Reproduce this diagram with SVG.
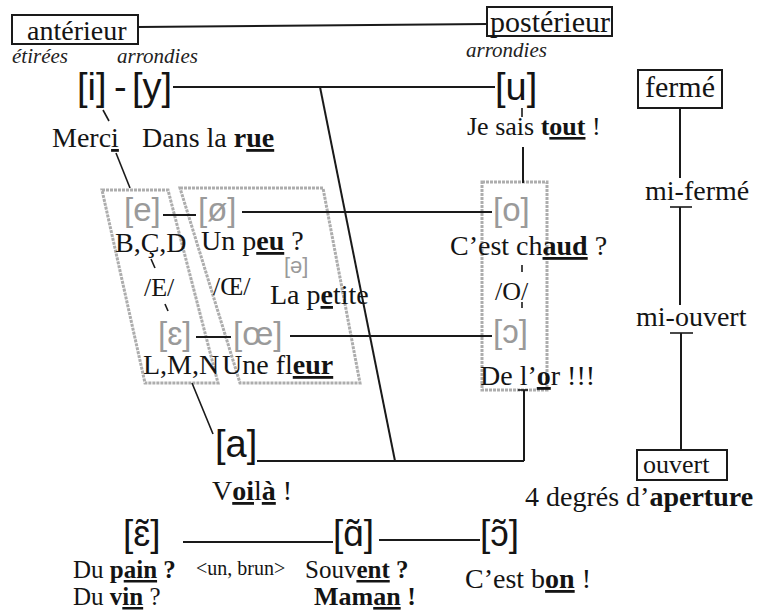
<svg xmlns="http://www.w3.org/2000/svg" width="759" height="610" viewBox="0 0 759 610">
<style>
.t{font-family:"Liberation Serif","Times New Roman",serif;font-size:28px;fill:#141414}
.it{font-family:"Liberation Serif","DejaVu Serif",serif;font-style:italic;font-size:21px;fill:#222}
.ipa{font-family:"Liberation Sans","DejaVu Sans",sans-serif;font-size:38px;fill:#141414}
.gi{font-family:"Liberation Sans","DejaVu Sans",sans-serif;font-size:33px;fill:#9a9a9a}
.b{font-weight:bold}
.u{text-decoration:underline}
.box{fill:#fff;stroke:#1a1a1a;stroke-width:2}
.ln{stroke:#1a1a1a;stroke-width:2;fill:none}
.tk{stroke:#1a1a1a;stroke-width:1.6;fill:none}
.gr{fill:none;stroke:#adadad;stroke-width:3;stroke-dasharray:3 1}
</style>
<rect width="759" height="610" fill="#fff"/>

<g id="groups">
<polygon class="gr" points="102,190 168,190 218,383 145,383"/>
<polygon class="gr" points="180,188 323,188 360,383 240,383"/>
<rect class="gr" x="482" y="182" width="65" height="208"/>
</g>

<g id="connectors">
<line class="ln" x1="138" y1="27" x2="487" y2="24"/>
<line class="ln" x1="173" y1="87" x2="495" y2="87"/>
<line class="ln" x1="320" y1="87" x2="395" y2="461"/>
<line class="ln" x1="257" y1="461" x2="524" y2="461"/>
<line class="ln" x1="524" y1="390" x2="524" y2="461"/>
<line class="tk" x1="518" y1="390" x2="528" y2="390"/>
<line class="tk" x1="103" y1="110" x2="109" y2="121"/>
<line class="tk" x1="116" y1="153" x2="130" y2="188"/>
<line class="tk" x1="522" y1="108" x2="522" y2="117"/>
<line class="ln" x1="523" y1="147" x2="523" y2="183"/>
<line class="tk" x1="522" y1="265" x2="522" y2="272"/>
<line class="tk" x1="522" y1="302" x2="522" y2="308"/>
<line class="tk" x1="151" y1="259" x2="155" y2="268"/>
<line class="tk" x1="165" y1="304" x2="168" y2="311"/>
<line class="tk" x1="192" y1="383" x2="213" y2="434"/>
<line class="ln" x1="163" y1="215" x2="196" y2="215"/>
<line class="ln" x1="242" y1="212" x2="492" y2="212"/>
<line class="ln" x1="196" y1="337" x2="231" y2="337"/>
<line class="ln" x1="290" y1="336" x2="492" y2="336"/>
<line class="ln" x1="680" y1="108" x2="680" y2="178"/>
<line class="ln" x1="680" y1="207" x2="680" y2="305"/>
<line class="tk" x1="670" y1="207" x2="692" y2="207"/>
<line class="ln" x1="681" y1="333" x2="681" y2="450"/>
<line class="tk" x1="670" y1="333" x2="693" y2="333"/>
<line class="ln" x1="183" y1="542" x2="333" y2="542"/>
<line class="ln" x1="379" y1="540" x2="480" y2="540"/>
</g>

<g id="anterieur"><rect class="box" x="12" y="15" width="126" height="29"/><text class="t" x="27" y="40">antérieur</text></g>
<g id="posterieur"><rect class="box" x="487" y="7" width="125" height="29"/><text class="t" x="490" y="32" style="font-size:30px">postérieur</text></g>
<g id="labels">
<text class="it" x="12" y="63">étirées</text>
<text class="it" x="117" y="63">arrondies</text>
<text class="it" x="466" y="57">arrondies</text>
</g>

<g id="i-y">
<text class="ipa" x="77" y="100">[i]</text>
<text class="ipa" x="114" y="100">-</text>
<text class="ipa" x="132" y="100">[y]</text>
<text class="t" x="52" y="147">Merc<tspan class="u">i</tspan></text>
<text class="t" x="142" y="147">Dans la <tspan class="b">r<tspan class="u">ue</tspan></tspan></text>
</g>
<g id="u">
<text class="ipa" x="495" y="100">[u]</text>
<text class="t" x="467" y="135" style="font-size:26px">Je sais <tspan class="b">t<tspan class="u">out</tspan></tspan> !</text>
</g>

<g id="E">
<text class="gi" x="124" y="221">[e]</text>
<text class="t" x="115" y="252">B,Ç,D</text>
<text class="t" x="144" y="296" style="font-size:26px">/E/</text>
<text class="gi" x="158" y="345">[ɛ]</text>
<text class="t" x="143" y="374">L,M,N</text>
</g>
<g id="OE">
<text class="gi" x="198" y="221">[ø]</text>
<text class="t" x="201" y="250">Un p<tspan class="b u">eu</tspan> ?</text>
<text class="t" x="213" y="295" style="font-size:26px">/Œ/</text>
<text class="gi" x="284" y="273" style="font-size:22px">[ə]</text>
<text class="t" x="270" y="304">La p<tspan class="b u">e</tspan>tite</text>
<text class="gi" x="233" y="345">[œ]</text>
<text class="t" x="222" y="374">Une fl<tspan class="b u">eur</tspan></text>
</g>
<g id="O">
<text class="gi" x="493" y="221">[o]</text>
<text class="t" x="450" y="255">C’est ch<tspan class="b u">aud</tspan> ?</text>
<text class="t" x="495" y="300" style="font-size:26px">/O/</text>
<text class="gi" x="493" y="343">[ɔ]</text>
<text class="t" x="480" y="385">De l’<tspan class="b u">o</tspan>r !!!</text>
</g>
<g id="a">
<text class="ipa" x="215" y="457">[a]</text>
<text class="t" x="212" y="500">V<tspan class="b u">oi</tspan>l<tspan class="b u">à</tspan> !</text>
</g>

<g id="aperture">
<rect class="box" x="638" y="70" width="84" height="38"/><text class="t" x="645" y="97" style="font-size:30px">fermé</text>
<text class="t" x="645" y="200">mi-fermé</text>
<text class="t" x="636" y="326">mi-ouvert</text>
<rect class="box" x="637" y="450" width="90" height="30"/><text class="t" x="643" y="473" style="font-size:26px">ouvert</text>
<text class="t" x="525" y="506">4 degrés d’<tspan class="b">aperture</tspan></text>
</g>

<g id="nasal-e">
<text class="ipa" x="123" y="546" style="font-size:37px">[ɛ̃]</text>
<text class="t" x="73" y="578" style="font-size:25px">Du <tspan class="b">p<tspan class="u">ain</tspan> ?</tspan></text>
<text class="t" x="73" y="605" style="font-size:25px">Du <tspan class="b">v<tspan class="u">in</tspan></tspan> ?</text>
<text class="t" x="196" y="575" style="font-size:20px">&lt;un, brun&gt;</text>
</g>
<g id="nasal-a">
<text class="ipa" x="333" y="546" style="font-size:37px">[ɑ̃]</text>
<text class="t" x="305" y="578" style="font-size:25px">Souv<tspan class="b"><tspan class="u">ent</tspan> ?</tspan></text>
<text class="t b" x="314" y="605" style="font-size:26px">Mam<tspan class="u">an</tspan> !</text>
</g>
<g id="nasal-o">
<text class="ipa" x="480" y="546" style="font-size:37px">[ɔ̃]</text>
<text class="t" x="465" y="588">C’est b<tspan class="b u">on</tspan> !</text>
</g>
</svg>
